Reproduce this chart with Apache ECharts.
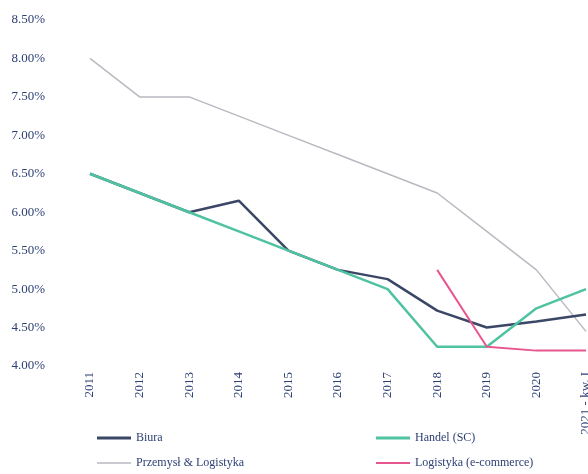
<!DOCTYPE html>
<html>
<head>
<meta charset="utf-8">
<script src="https://cdn.jsdelivr.net/npm/echarts@6/dist/echarts.min.js"></script>
<style>
html,body{margin:0;padding:0;background:#fff;overflow:hidden;width:588px;height:474px;}
#c{width:604px;height:474px;}
</style>
</head>
<body>
<div id="c"></div>
<script>
const categories = ['2011','2012','2013','2014','2015','2016','2017','2018','2019','2020','2021 - kw. I'];
const biura = [6.50, 6.25, 6.00, 6.15, 5.50, 5.25, 5.13, 4.72, 4.50, 4.58, 4.67];
const handel = [6.50, 6.25, 6.00, 5.75, 5.50, 5.25, 5.00, 4.25, 4.25, 4.75, 5.00];
const przemysl = [8.00, 7.50, 7.50, 7.25, 7.00, 6.75, 6.50, 6.25, 5.75, 5.25, 4.45];
const logistyka = [null, null, null, null, null, null, null, 5.25, 4.25, 4.20, 4.20];
const yTicks = ['4.00%','4.50%','5.00%','5.50%','6.00%','6.50%','7.00%','7.50%','8.00%','8.50%'];

const txt = '#2b3f73';
const font = 'Liberation Serif';
const names = ['Biura','Handel (SC)','Przemysł & Logistyka','Logistyka (e-commerce)'];
const colors = ['#3b4766','#4fc3a1','#b9b9c2','#e8568f'];
const widths = [2.5, 2.5, 1.5, 2];

const chart = echarts.init(document.getElementById('c'));
function lg(name, left, top, h){
  return {data:[name], left:left, top:top, orient:'horizontal', icon:'rect', itemWidth:34, itemHeight:h,
    textStyle:{color:txt, fontFamily:font, fontSize:12}, selectedMode:false, padding:0};
}
chart.setOption({
  backgroundColor:'#ffffff',
  animation:false,
  grid:{left:90, right:18, top:20, bottom:108, containLabel:false},
  legend:[
    lg(names[0], 97, 432, 3),
    lg(names[1], 376, 432, 3),
    lg(names[2], 97, 457, 1.5),
    lg(names[3], 376, 457, 2)
  ],
  xAxis:{type:'category', data:categories, boundaryGap:false,
    axisLine:{show:false}, axisTick:{show:false}, splitLine:{show:false},
    axisLabel:{rotate:90, margin:6, color:txt, fontFamily:font, fontSize:13, interval:0}},
  yAxis:{type:'value', min:4, max:8.5, interval:0.5,
    axisLine:{show:false}, axisTick:{show:false}, splitLine:{show:false},
    axisLabel:{margin:45, color:txt, fontFamily:font, fontSize:13,
      formatter:function(v){ return yTicks[Math.round((v-4)/0.5)]; }}},
  series:[
    {name:names[2], type:'line', data:przemysl, symbol:'none', lineStyle:{color:colors[2], width:widths[2]}, itemStyle:{color:colors[2]}},
    {name:names[0], type:'line', data:biura, symbol:'none', lineStyle:{color:colors[0], width:widths[0]}, itemStyle:{color:colors[0]}},
    {name:names[1], type:'line', data:handel, symbol:'none', lineStyle:{color:colors[1], width:widths[1]}, itemStyle:{color:colors[1]}},
    {name:names[3], type:'line', data:logistyka, symbol:'none', lineStyle:{color:colors[3], width:widths[3]}, itemStyle:{color:colors[3]}}
  ]
});
</script>
</body>
</html>
